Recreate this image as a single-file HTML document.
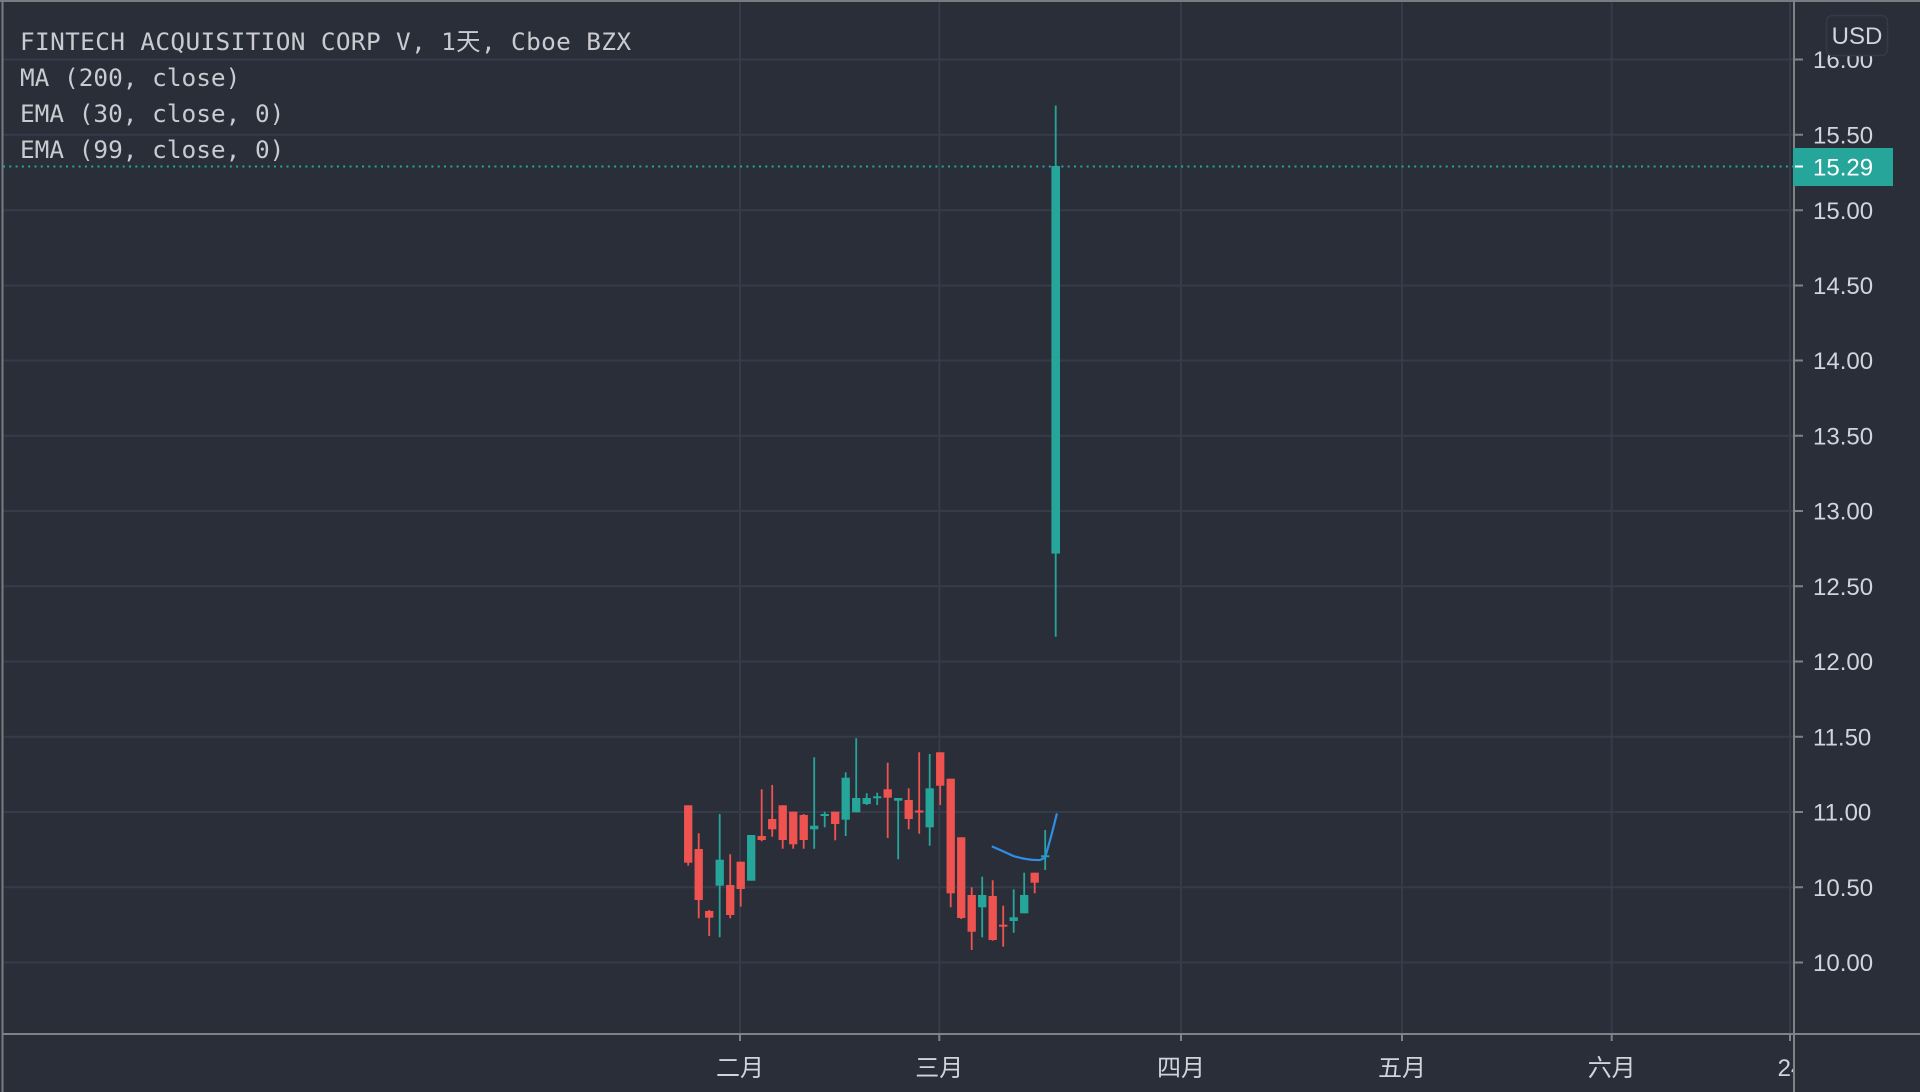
<!DOCTYPE html>
<html><head><meta charset="utf-8"><style>
html,body{margin:0;padding:0;background:#2a2e39;}
svg{display:block;}
.t{font-family:"DejaVu Sans Mono","Liberation Mono","Noto Sans CJK SC",monospace;font-size:24.4px;fill:#c9cbd0;}
.p{font-family:"Liberation Sans","DejaVu Sans",sans-serif;font-size:24px;fill:#d1d4dc;}
.x{font-family:"Liberation Sans","Noto Sans CJK SC",sans-serif;font-size:24px;fill:#d1d4dc;}
</style></head><body>
<svg width="1920" height="1092" viewBox="0 0 1920 1092" xmlns="http://www.w3.org/2000/svg">
<rect x="0" y="0" width="1920" height="1092" fill="#2a2e39"/>
<!-- grid -->
<g stroke="#363b4a" stroke-width="2">
<line x1="3" y1="59.5" x2="1794" y2="59.5"/>
<line x1="3" y1="134.75" x2="1794" y2="134.75"/>
<line x1="3" y1="210.25" x2="1794" y2="210.25"/>
<line x1="3" y1="285.5" x2="1794" y2="285.5"/>
<line x1="3" y1="360.5" x2="1794" y2="360.5"/>
<line x1="3" y1="435.75" x2="1794" y2="435.75"/>
<line x1="3" y1="511" x2="1794" y2="511"/>
<line x1="3" y1="586.25" x2="1794" y2="586.25"/>
<line x1="3" y1="661.5" x2="1794" y2="661.5"/>
<line x1="3" y1="736.75" x2="1794" y2="736.75"/>
<line x1="3" y1="812" x2="1794" y2="812"/>
<line x1="3" y1="887.25" x2="1794" y2="887.25"/>
<line x1="3" y1="962.5" x2="1794" y2="962.5"/>
<line x1="740" y1="0" x2="740" y2="1034"/>
<line x1="939.3" y1="0" x2="939.3" y2="1034"/>
<line x1="1181" y1="0" x2="1181" y2="1034"/>
<line x1="1402" y1="0" x2="1402" y2="1034"/>
<line x1="1611.7" y1="0" x2="1611.7" y2="1034"/>
<line x1="1790" y1="0" x2="1790" y2="1034"/>
</g>
<!-- frame -->
<line x1="0" y1="1" x2="1920" y2="1" stroke="#7a7c82" stroke-width="2"/>
<line x1="2.5" y1="0" x2="2.5" y2="1092" stroke="#7a7c82" stroke-width="2"/>
<!-- legend text -->
<text class="t" x="20" y="50" textLength="611" lengthAdjust="spacing">FINTECH ACQUISITION CORP V, 1天, Cboe BZX</text>
<text class="t" x="20" y="86">MA (200, close)</text>
<text class="t" x="20" y="122">EMA (30, close, 0)</text>
<text class="t" x="20" y="158">EMA (99, close, 0)</text>
<!-- price line -->
<line x1="3" y1="166.5" x2="1794" y2="166.5" stroke="#26a69a" stroke-width="2" stroke-dasharray="2 4.3"/>
<g>
<g stroke-width="1.8">
<line x1="688.2" y1="805.3" x2="688.2" y2="865.7" stroke="#ef5350"/>
<line x1="698.7" y1="833.3" x2="698.7" y2="918.3" stroke="#ef5350"/>
<line x1="709.2" y1="910" x2="709.2" y2="936" stroke="#ef5350"/>
<line x1="719.7" y1="814" x2="719.7" y2="937.3" stroke="#26a69a"/>
<line x1="730.2" y1="854.3" x2="730.2" y2="918.3" stroke="#ef5350"/>
<line x1="740.7" y1="861.7" x2="740.7" y2="906.7" stroke="#ef5350"/>
<line x1="751.2" y1="835" x2="751.2" y2="880.7" stroke="#26a69a"/>
<line x1="761.7" y1="789.3" x2="761.7" y2="841.3" stroke="#ef5350"/>
<line x1="772.2" y1="785" x2="772.2" y2="836.7" stroke="#ef5350"/>
<line x1="782.7" y1="805.3" x2="782.7" y2="848.7" stroke="#ef5350"/>
<line x1="793.2" y1="811.7" x2="793.2" y2="848.7" stroke="#ef5350"/>
<line x1="803.7" y1="814" x2="803.7" y2="848.7" stroke="#ef5350"/>
<line x1="814.2" y1="757.3" x2="814.2" y2="848.7" stroke="#26a69a"/>
<line x1="824.7" y1="811.7" x2="824.7" y2="827.3" stroke="#26a69a"/>
<line x1="835.2" y1="811.7" x2="835.2" y2="840.3" stroke="#ef5350"/>
<line x1="845.7" y1="772.3" x2="845.7" y2="836" stroke="#26a69a"/>
<line x1="856.2" y1="738.3" x2="856.2" y2="812.3" stroke="#26a69a"/>
<line x1="866.7" y1="793.3" x2="866.7" y2="805" stroke="#26a69a"/>
<line x1="877.2" y1="792.7" x2="877.2" y2="805" stroke="#26a69a"/>
<line x1="887.7" y1="762.7" x2="887.7" y2="838" stroke="#ef5350"/>
<line x1="898.2" y1="798" x2="898.2" y2="859.3" stroke="#26a69a"/>
<line x1="908.7" y1="788.3" x2="908.7" y2="829.3" stroke="#ef5350"/>
<line x1="919.2" y1="752.3" x2="919.2" y2="833.7" stroke="#ef5350"/>
<line x1="929.7" y1="754" x2="929.7" y2="845.7" stroke="#26a69a"/>
<line x1="940.2" y1="752.3" x2="940.2" y2="805" stroke="#ef5350"/>
<line x1="950.7" y1="778.7" x2="950.7" y2="907.3" stroke="#ef5350"/>
<line x1="961.2" y1="837.3" x2="961.2" y2="919" stroke="#ef5350"/>
<line x1="971.7" y1="887.3" x2="971.7" y2="950" stroke="#ef5350"/>
<line x1="982.2" y1="876.7" x2="982.2" y2="937.3" stroke="#26a69a"/>
<line x1="992.7" y1="880.3" x2="992.7" y2="940.7" stroke="#ef5350"/>
<line x1="1003.2" y1="905.7" x2="1003.2" y2="946.7" stroke="#ef5350"/>
<line x1="1013.7" y1="889.3" x2="1013.7" y2="932.7" stroke="#26a69a"/>
<line x1="1024.2" y1="872.7" x2="1024.2" y2="913.3" stroke="#26a69a"/>
<line x1="1034.7" y1="872.7" x2="1034.7" y2="893.3" stroke="#ef5350"/>
<line x1="1045.2" y1="830" x2="1045.2" y2="870" stroke="#26a69a"/>
<line x1="1055.7" y1="105.5" x2="1055.7" y2="636.7" stroke="#26a69a"/>
</g>
<g>
<rect x="684.05" y="805.3" width="8.3" height="57.4" fill="#ef5350"/>
<rect x="694.55" y="849" width="8.3" height="51" fill="#ef5350"/>
<rect x="705.05" y="911" width="8.3" height="6.7" fill="#ef5350"/>
<rect x="715.55" y="859.7" width="8.3" height="26" fill="#26a69a"/>
<rect x="726.05" y="885" width="8.3" height="30" fill="#ef5350"/>
<rect x="736.55" y="861.7" width="8.3" height="27.3" fill="#ef5350"/>
<rect x="747.05" y="835" width="8.3" height="45.7" fill="#26a69a"/>
<rect x="757.55" y="836" width="8.3" height="4" fill="#ef5350"/>
<rect x="768.05" y="819" width="8.3" height="10.3" fill="#ef5350"/>
<rect x="778.55" y="805.3" width="8.3" height="34.7" fill="#ef5350"/>
<rect x="789.05" y="811.7" width="8.3" height="32.6" fill="#ef5350"/>
<rect x="799.55" y="815" width="8.3" height="25" fill="#ef5350"/>
<rect x="810.05" y="825.7" width="8.3" height="3.6" fill="#26a69a"/>
<rect x="820.55" y="814" width="8.3" height="2" fill="#26a69a"/>
<rect x="831.05" y="811.7" width="8.3" height="12.3" fill="#ef5350"/>
<rect x="841.55" y="777.7" width="8.3" height="42" fill="#26a69a"/>
<rect x="852.05" y="798" width="8.3" height="14.3" fill="#26a69a"/>
<rect x="862.55" y="798" width="8.3" height="6" fill="#26a69a"/>
<rect x="873.05" y="796.3" width="8.3" height="2" fill="#26a69a"/>
<rect x="883.55" y="789.3" width="8.3" height="8.4" fill="#ef5350"/>
<rect x="894.05" y="798" width="8.3" height="2.7" fill="#26a69a"/>
<rect x="904.55" y="800" width="8.3" height="19" fill="#ef5350"/>
<rect x="915.05" y="810.5" width="8.3" height="2" fill="#ef5350"/>
<rect x="925.55" y="788.3" width="8.3" height="39" fill="#26a69a"/>
<rect x="936.05" y="752.3" width="8.3" height="33.4" fill="#ef5350"/>
<rect x="946.55" y="778.7" width="8.3" height="114.6" fill="#ef5350"/>
<rect x="957.05" y="837.3" width="8.3" height="80.7" fill="#ef5350"/>
<rect x="967.55" y="895" width="8.3" height="36.7" fill="#ef5350"/>
<rect x="978.05" y="895" width="8.3" height="12.3" fill="#26a69a"/>
<rect x="988.55" y="896" width="8.3" height="44" fill="#ef5350"/>
<rect x="999.05" y="924.7" width="8.3" height="2" fill="#ef5350"/>
<rect x="1009.55" y="917.3" width="8.3" height="3.7" fill="#26a69a"/>
<rect x="1020.05" y="895" width="8.3" height="18.3" fill="#26a69a"/>
<rect x="1030.55" y="872.7" width="8.3" height="10" fill="#ef5350"/>
<rect x="1041.05" y="855.3" width="8.3" height="2" fill="#26a69a"/>
<rect x="1051.4" y="166" width="8.6" height="387.6" fill="#26a69a"/>
</g>
</g>
<!-- EMA line -->
<path d="M992.7,846.7 Q1005,852 1013.3,856 Q1028,860.5 1040,860 L1045,857.7 Q1051,838 1056.7,814.3" fill="none" stroke="#2f8fe6" stroke-width="2.2" stroke-linecap="round"/>
<!-- price axis pane -->
<rect x="1795" y="0" width="125" height="1092" fill="#2a2e39"/>
<line x1="0" y1="1" x2="1920" y2="1" stroke="#7a7c82" stroke-width="2"/>
<line x1="1794" y1="0" x2="1794" y2="1092" stroke="#808288" stroke-width="2"/>
<line x1="3" y1="1034" x2="1920" y2="1034" stroke="#808288" stroke-width="2"/>
<!-- ticks -->
<g stroke="#808288" stroke-width="2">
<line x1="1794" y1="59.5" x2="1803" y2="59.5"/>
<line x1="1794" y1="134.75" x2="1803" y2="134.75"/>
<line x1="1794" y1="210.25" x2="1803" y2="210.25"/>
<line x1="1794" y1="285.5" x2="1803" y2="285.5"/>
<line x1="1794" y1="360.5" x2="1803" y2="360.5"/>
<line x1="1794" y1="435.75" x2="1803" y2="435.75"/>
<line x1="1794" y1="511" x2="1803" y2="511"/>
<line x1="1794" y1="586.25" x2="1803" y2="586.25"/>
<line x1="1794" y1="661.5" x2="1803" y2="661.5"/>
<line x1="1794" y1="736.75" x2="1803" y2="736.75"/>
<line x1="1794" y1="812" x2="1803" y2="812"/>
<line x1="1794" y1="887.25" x2="1803" y2="887.25"/>
<line x1="1794" y1="962.5" x2="1803" y2="962.5"/>
<line x1="740" y1="1034" x2="740" y2="1041"/>
<line x1="939.3" y1="1034" x2="939.3" y2="1041"/>
<line x1="1181" y1="1034" x2="1181" y2="1041"/>
<line x1="1402" y1="1034" x2="1402" y2="1041"/>
<line x1="1611.7" y1="1034" x2="1611.7" y2="1041"/>
<line x1="1790" y1="1034" x2="1790" y2="1041"/>
</g>
<g class="p">
<text x="1813" y="68">16.00</text>
<text x="1813" y="143.25">15.50</text>
<text x="1813" y="218.75">15.00</text>
<text x="1813" y="294">14.50</text>
<text x="1813" y="369">14.00</text>
<text x="1813" y="444.25">13.50</text>
<text x="1813" y="519.5">13.00</text>
<text x="1813" y="594.75">12.50</text>
<text x="1813" y="670">12.00</text>
<text x="1813" y="745.25">11.50</text>
<text x="1813" y="820.5">11.00</text>
<text x="1813" y="895.75">10.50</text>
<text x="1813" y="971">10.00</text>
</g>
<!-- USD box -->
<rect x="1826.5" y="15.5" width="61" height="40" rx="6" fill="#2a2e39" stroke="#363a46" stroke-width="1.5"/>
<text class="p" x="1857" y="44" text-anchor="middle">USD</text>
<!-- current price label -->
<rect x="1793" y="148" width="100" height="38" fill="#26a69a"/>
<line x1="1795" y1="166.5" x2="1803" y2="166.5" stroke="#ffffff" stroke-width="2"/>
<text class="p" x="1813" y="175.5" style="fill:#ffffff">15.29</text>
<!-- x labels -->
<g class="x" text-anchor="middle">
<text x="740" y="1076">二月</text>
<text x="939.3" y="1076">三月</text>
<text x="1181" y="1076">四月</text>
<text x="1402" y="1076">五月</text>
<text x="1611.7" y="1076">六月</text>
</g>
<svg x="0" y="1036" width="1793" height="56" overflow="hidden">
<text class="x" x="1791" y="40" text-anchor="middle">24</text>
</svg>
</svg>
</body></html>
